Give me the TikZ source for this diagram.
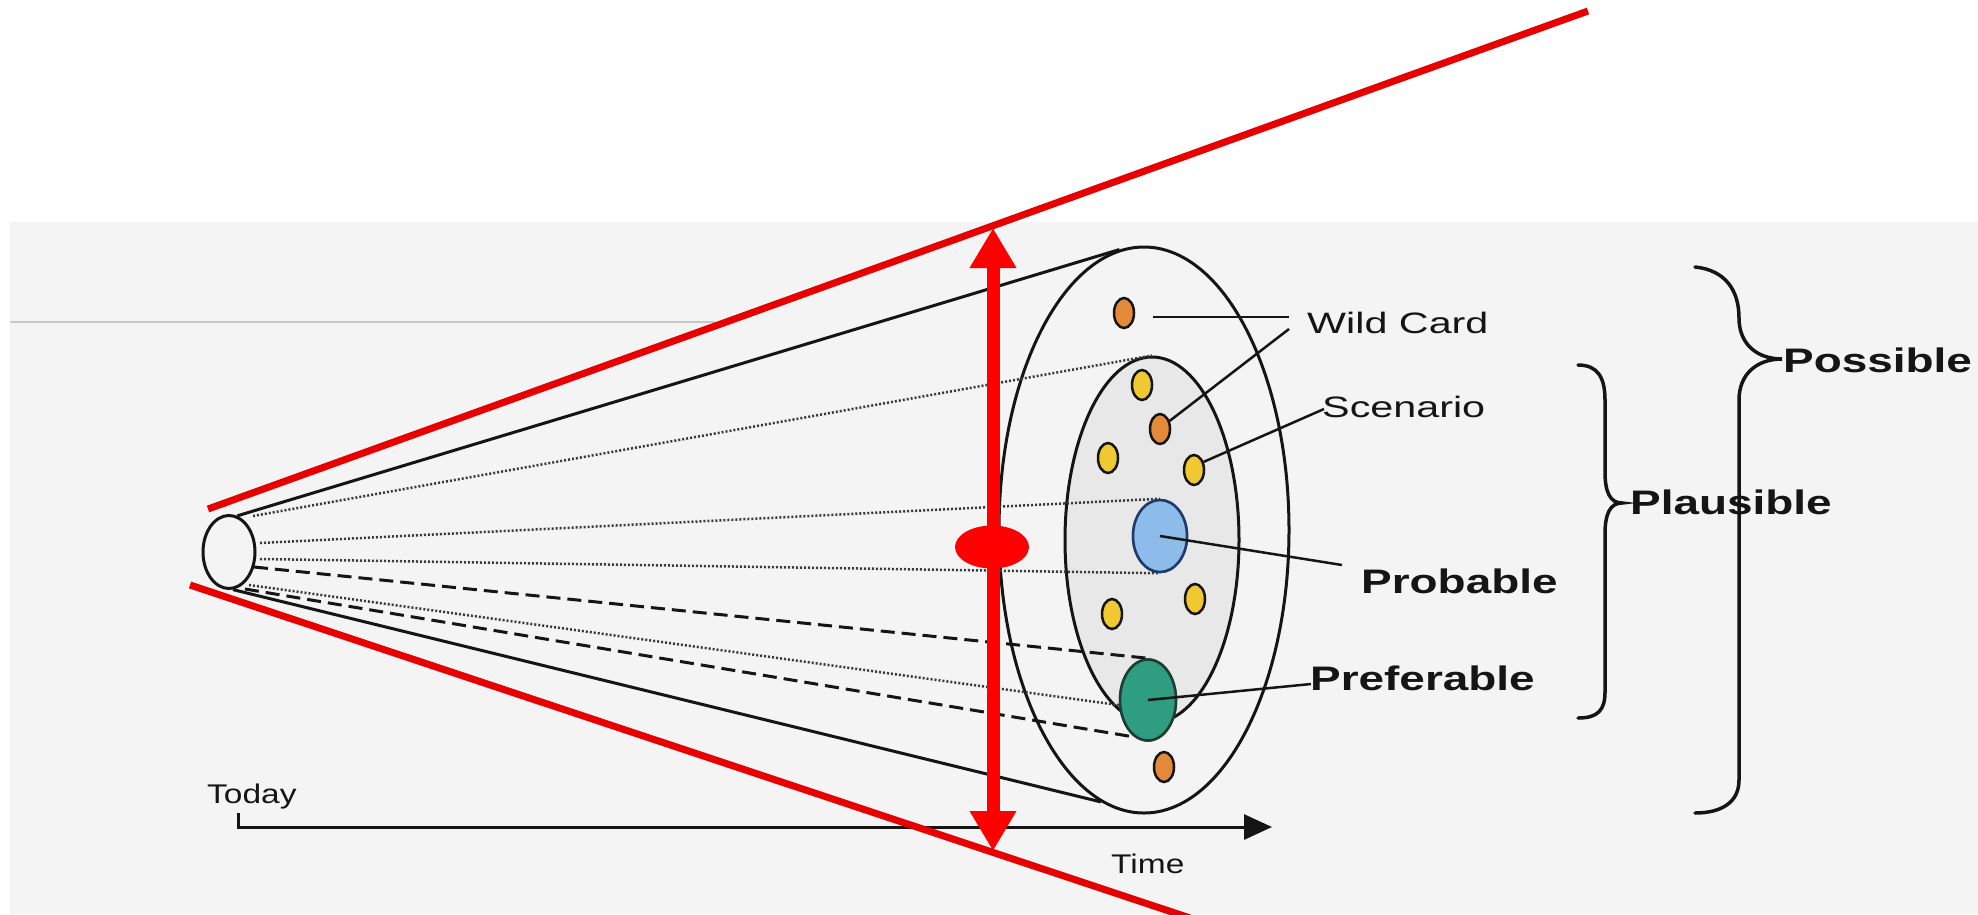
\documentclass[tikz,border=0pt]{standalone}
\usepackage{fontspec}
\setmainfont{Liberation Sans}
\usetikzlibrary{shapes.geometric,arrows.meta,calc}

\definecolor{bg}{HTML}{F4F4F4}
\definecolor{faint}{HTML}{C8C8C8}
\definecolor{innerfill}{HTML}{E8E8E8}
\definecolor{orangedot}{HTML}{E38A3A}
\definecolor{yellowdot}{HTML}{F0C932}
\definecolor{bluedot}{HTML}{8DBBEA}
\definecolor{blueedge}{HTML}{1E3A6A}
\definecolor{greendot}{HTML}{2F9E80}
\definecolor{greenedge}{HTML}{1C3D32}
\definecolor{ink}{HTML}{151515}
\definecolor{dotink}{HTML}{3A3A3A}
\definecolor{redline}{HTML}{E60000}
\definecolor{redarrow}{HTML}{FF0000}

\newcommand{\lblreg}[1]{\scalebox{1.40}[1]{\fontsize{29.5}{34}\selectfont #1}}
\newcommand{\lblbold}[1]{\scalebox{1.35}[1]{\fontsize{34}{40}\selectfont\bfseries #1}}
\newcommand{\lblaxis}[1]{\scalebox{1.24}[1]{\fontsize{27}{31}\selectfont #1}}

\begin{document}
\begin{tikzpicture}[x=1pt,y=-1pt,
  ell/.style={ellipse, draw=ink, line width=3pt, inner sep=0pt},
  spot/.style={ellipse, draw=ink, line width=2.5pt, inner sep=0pt, minimum width=20pt, minimum height=30pt},
  ospot/.style={spot, fill=orangedot},
  yspot/.style={spot, fill=yellowdot},
  solidray/.style={draw=ink, line width=3pt},
  dotray/.style={draw=dotink, line width=2.5pt, dash pattern=on 2pt off 2pt},
  dashray/.style={draw=ink, line width=3pt, dash pattern=on 14pt off 7pt},
  leader/.style={draw=ink, line width=2.5pt},
  lbl/.style={inner sep=0pt, anchor=base west, text=ink},
  brace/.style={draw=ink, line width=3.5pt, line cap=round},
  redl/.style={draw=redline, line width=7pt},
]
\useasboundingbox (0,0) rectangle (1978,914);
\clip (0,0) rectangle (1978,914);
\fill[white] (0,0) rectangle (1978,914);
\fill[bg] (10,222) rectangle (1978,914);
\coordinate (fl1) at (10,322);
\coordinate (fl2) at (715,322);
\draw[draw=faint, line width=1.5pt] (fl1) -- (fl2);

% cone ellipses
\node[ell, minimum width=52pt, minimum height=73pt] (today) at (229,552) {};
\node[ell, minimum width=290pt, minimum height=566pt] (outer) at (1144,530) {};
\node[ell, fill=innerfill, minimum width=174pt, minimum height=366pt] (inner) at (1152,540) {};

% big dots (targets of the rays)
\node[spot, fill=bluedot, draw=blueedge, minimum width=54pt, minimum height=72pt] (blue) at (1160,536) {};
\node[spot, fill=greendot, draw=greenedge, minimum width=56pt, minimum height=81pt] (green) at (1148,700) {};

% ray start points
\coordinate (ra) at (253,516);
\coordinate (rb) at (260,543);
\coordinate (rc) at (260,559);
\coordinate (rd) at (254,567);
\coordinate (re) at (249,585);
\coordinate (rf) at (245,589);

\draw[solidray] (today.77) -- (outer.95);
\draw[solidray] (today.276) -- (outer.261);
\draw[dotray] (ra) -- (inner.north);
\draw[dotray] (rb) -- (blue.north);
\draw[dotray] (rc) -- (blue.south);
\draw[dashray] (rd) -- (green.north);
\draw[dotray] (re) -- (green.190);
\draw[dashray] (rf) -- (green.250);

% big dots again, above the rays
\node[spot, fill=bluedot, draw=blueedge, minimum width=54pt, minimum height=72pt] (blue2) at (1160,536) {};
\node[spot, fill=greendot, draw=greenedge, minimum width=56pt, minimum height=81pt] (green2) at (1148,700) {};

% small dots
\node[ospot] (o1) at (1124,313) {};
\node[yspot] (y1) at (1142,385) {};
\node[ospot] (o2) at (1160,429) {};
\node[yspot] (y2) at (1108,458) {};
\node[yspot] (y3) at (1194,470) {};
\node[yspot] (y4) at (1195,599) {};
\node[yspot] (y5) at (1112,614) {};
\node[ospot] (o3) at (1164,767) {};

% labels
\node[lbl] (wc) at (1307,333) {\lblreg{Wild Card}};
\node[lbl] (sc) at (1322,417) {\lblreg{Scenario}};
\node[lbl] (prob) at (1361,593) {\lblbold{Probable}};
\node[lbl] (pref) at (1310,690) {\lblbold{Preferable}};
\node[lbl] (plaus) at (1630,514) {\lblbold{Plausible}};
\node[lbl] (poss) at (1783,372) {\lblbold{Possible}};
\node[lbl] (today-l) at (207,803) {\lblaxis{Today}};
\node[lbl] (time-l) at (1111,873) {\lblaxis{Time}};

% leaders
\coordinate (wc1) at (1153,317);
\coordinate (wc2) at (1289,317);
\coordinate (wc3) at (1289,329);
\coordinate (sc1) at (1324,409);
\coordinate (pr1) at (1342,565);
\coordinate (pf1) at (1311,684);
\draw[leader] (wc1) -- (wc2);
\draw[leader] (wc3) -- (o2.40);
\draw[leader] (sc1) -- (y3.40);
\draw[leader] (blue2.center) -- (pr1);
\draw[leader] (green2.center) -- (pf1);

% braces
\draw[brace] (1578,365) .. controls (1598,365) and (1605,378) .. (1605,400)
  -- (1605,472) .. controls (1605,492) and (1610,503) .. (1622,503)
  .. controls (1610,503) and (1605,514) .. (1605,534)
  -- (1605,692) .. controls (1605,710) and (1598,718) .. (1578,718);
\draw[brace] (1695,267) .. controls (1725,270) and (1739,290) .. (1739,318)
  .. controls (1739,345) and (1758,359) .. (1782,359)
  .. controls (1758,359) and (1739,373) .. (1739,400)
  -- (1739,780) .. controls (1739,802) and (1722,813) .. (1695,813);

% time axis
\coordinate (ax0) at (238,813);
\coordinate (ax1) at (238,827);
\coordinate (ax2) at (1272,827);
\draw[draw=ink, line width=3pt, -{Triangle[length=28pt,width=25pt]}] (ax0) -- (ax1) -- (ax2);

% red overlay
\coordinate (ru1) at (208,509);
\coordinate (ru2) at (1588,11);
\coordinate (rl1) at (190,585);
\coordinate (rl2) at (1190,918);
\draw[redl] (ru1) -- (ru2);
\draw[redl] (rl1) -- (rl2);
\coordinate (atop) at (993,228);
\coordinate (abot) at (993,851);
\draw[draw=redarrow, line width=13pt, {Triangle[length=40pt,width=44pt]}-{Triangle[length=40pt,width=44pt]}] (atop) -- (abot);
\node[ellipse, fill=redarrow, inner sep=0pt, minimum width=74pt, minimum height=43pt] (redel) at (992,547) {};
\end{tikzpicture}
\end{document}
